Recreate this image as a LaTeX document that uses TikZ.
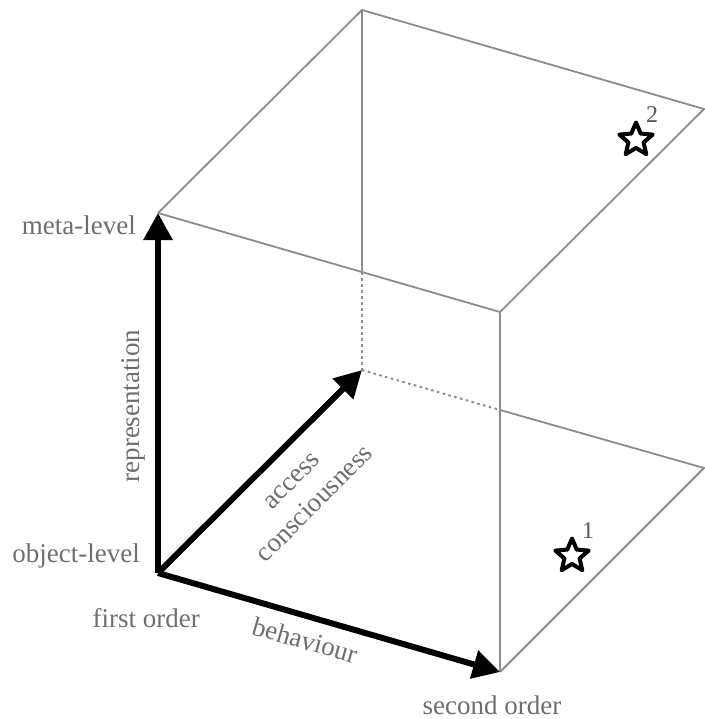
\documentclass[tikz,border=0pt]{standalone}
\usepackage{fontspec}
\setmainfont{Liberation Serif}
\usetikzlibrary{arrows.meta,shapes.geometric}
\definecolor{cubegray}{HTML}{8C8C8C}
\definecolor{labgray}{HTML}{6E6E6E}
\begin{document}
\begin{tikzpicture}[x=1pt,y=-1pt,
  edge/.style={draw=cubegray, line width=1.8pt},
  hidden/.style={draw=cubegray, line width=2pt, dash pattern=on 2.5pt off 3.5pt},
  axis/.style={draw=black, line width=6pt, -{Triangle[length=27pt,width=28pt]}},
  lab/.style={text=labgray, font=\fontsize{27}{33}\selectfont, inner sep=0pt},
  starmark/.style={star, star points=5, star point ratio=2.2, draw=black, line width=4pt, line join=round, minimum size=35pt, inner sep=0pt},
  sup/.style={text=labgray!80!black, font=\fontsize{24}{28}\selectfont, inner sep=0pt}
]
\useasboundingbox (0,0) rectangle (704,719);
% corners
\coordinate (O) at (158,573);
\coordinate (X) at (500,672);
\coordinate (Y) at (362,370);
\coordinate (Z) at (158,213);
\coordinate (TX) at (500,312);
\coordinate (TY) at (362,10);
\coordinate (TXY) at (704,109);
\coordinate (BXY) at (704,468);
\coordinate (H1) at (362,272);
\coordinate (H2) at (500,410);
% visible edges
\draw[edge] (Z) -- (TY) -- (TXY) -- (TX) -- (Z);
\draw[edge] (TX) -- (X);
\draw[edge] (X) -- (BXY) -- (H2);
\draw[edge] (TY) -- (H1);
% hidden edges
\draw[hidden] (H1) -- (Y);
\draw[hidden] (Y) -- (H2);
% axes
\draw[axis] (O) -- (Z);
\draw[axis] (O) -- (X);
\draw[axis] (O) -- (Y);
% labels
\node[lab, anchor=east] (meta) at (136,225) {meta-level};
\node[lab, anchor=east] (obj) at (140,556) {object-level};
\node[lab, anchor=east] (first) at (200,618) {first order};
\node[lab] (second) at (492,705) {second order};
\node[lab, rotate=-16] (beh) at (305,640) {behaviour};
\node[lab, rotate=90] (rep) at (133,406) {representation};
\node[lab, rotate=45, align=center] (acc) at (304,493) {access\\consciousness};
% stars
\node[starmark] (s1) at (572,556) {};
\node[sup] (n1) at (588,531) {1};
\node[starmark] (s2) at (636,140) {};
\node[sup] (n2) at (652,115) {2};
\end{tikzpicture}
\end{document}
